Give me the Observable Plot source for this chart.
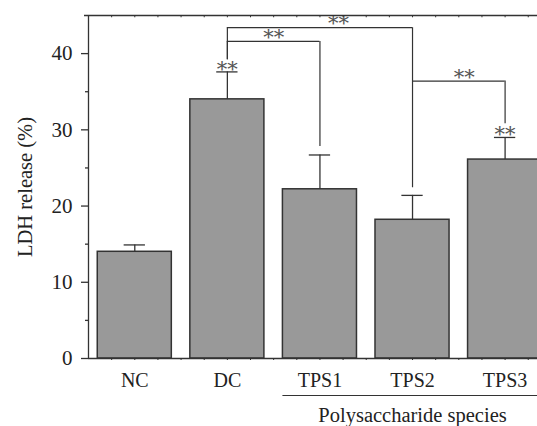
<!DOCTYPE html>
<html>
<head>
<meta charset="utf-8">
<script src="https://cdn.jsdelivr.net/npm/d3@7"></script>
<script src="https://cdn.jsdelivr.net/npm/@observablehq/plot@0.6"></script>
<style>
  html, body { margin: 0; padding: 0; background: #fff; overflow: hidden; }
</style>
</head>
<body>
<div id="chart"></div>
<script>
// ---- data ----
const categories = ["NC", "DC", "TPS1", "TPS2", "TPS3"];
const means = [14.0, 34.0, 22.2, 18.2, 26.1];
const sds = [0.9, 3.6, 4.5, 3.2, 2.9];
const yTicks = [0, 10, 20, 30, 40];
const yMinorTicks = [5, 15, 25, 35];
const yLabel = "LDH release (%)";
const groupLabel = "Polysaccharide species";
const groupMembers = ["TPS1", "TPS2", "TPS3"];
// significance brackets
const bracketFrom = ["DC", "DC", "TPS2"];
const bracketTo = ["TPS1", "TPS2", "TPS3"];
const bracketLevel = [41.6, 43.4, 36.4];
const bracketFromEnd = [39.2, 39.2, 36.4];
const bracketToEnd = [27.8, 22.4, 30.8];
const bracketLabelX = [1.5, 2.2, 3.56];
const starredBars = ["DC", "TPS3"];
const starText = "**";

// ---- derived tables ----
const idx = c => categories.indexOf(c);
const bars = categories.map((c, i) => ({cat: c, i, mean: means[i], top: means[i] + sds[i]}));
const brackets = bracketFrom.map((f, k) => ({
  a: idx(f), b: idx(bracketTo[k]), level: bracketLevel[k],
  aEnd: bracketFromEnd[k], bEnd: bracketToEnd[k], lx: bracketLabelX[k]
}));
const stars = bars.filter(d => starredBars.includes(d.cat));

const halfBar = 0.4, halfCap = 0.115;
const xMinor = d3.range(-0.25, 4.35, 0.25);
const ink = "#333";
const starStyle = {lineAnchor: "middle", fontSize: 21, fill: "#555", fontFamily: "'DejaVu Serif', serif"};

const chart = Plot.plot({
  width: 537,
  height: 426,
  marginLeft: 88,
  marginRight: 0,
  marginTop: 15,
  marginBottom: 68,
  x: {domain: [-0.5, 4.35], axis: null},
  y: {domain: [0, 45], axis: null},
  style: {fontFamily: "'Liberation Serif', 'DejaVu Serif', serif", fontSize: "20px", color: "#222", background: "#fff"},
  marks: [
    // bars
    Plot.rectY(bars, {x1: d => d.i - halfBar, x2: d => d.i + halfBar, y: "mean", fill: "#999999", stroke: ink, strokeWidth: 1.5}),
    // error bars
    Plot.ruleX(bars, {x: "i", y1: "mean", y2: "top", stroke: ink, strokeWidth: 1.3}),
    Plot.ruleY(bars, {y: "top", x1: d => d.i - halfCap, x2: d => d.i + halfCap, stroke: ink, strokeWidth: 1.3}),
    // brackets
    Plot.ruleY(brackets, {y: "level", x1: "a", x2: "b", stroke: ink, strokeWidth: 1.2}),
    Plot.ruleX(brackets, {x: "a", y1: "aEnd", y2: "level", stroke: ink, strokeWidth: 1.2}),
    Plot.ruleX(brackets, {x: "b", y1: "bEnd", y2: "level", stroke: ink, strokeWidth: 1.2}),
    Plot.text(brackets, {x: "lx", y: "level", text: () => starText, dy: -4, ...starStyle}),
    Plot.text(stars, {x: "i", y: "top", text: () => starText, dy: -3, ...starStyle}),
    // frame lines
    Plot.ruleX([-0.5], {stroke: ink, strokeWidth: 1.3}),
    Plot.ruleY([45], {stroke: ink, strokeWidth: 1.3, insetLeft: -4}),
    Plot.ruleY([0], {stroke: ink, strokeWidth: 1.3}),
    Plot.ruleX(xMinor, {y1: 45, y2: 44.7, stroke: ink, strokeWidth: 1}),
    Plot.axisX({ticks: xMinor, tickSize: 2, tickFormat: () => "", stroke: ink}),
    // y axis
    Plot.axisY({ticks: yTicks, tickSize: 7, tickPadding: 9, label: null, stroke: ink, strokeWidth: 1.3, fontSize: 21}),
    Plot.axisY({ticks: yMinorTicks, tickSize: 3, tickFormat: () => "", label: null, stroke: ink, strokeWidth: 1.3}),
    Plot.text([yLabel], {frameAnchor: "left", dx: -63, rotate: -90, textAnchor: "middle", lineAnchor: "middle", fontSize: 20.5, fill: "#222"}),
    // category labels
    Plot.text(bars, {x: "i", y: 0, text: "cat", dy: 22, lineAnchor: "middle", fontSize: 20, fill: "#222"}),
    // group label & line
    Plot.ruleY([0], {x1: idx(groupMembers[0]) - halfBar, x2: 4.35, dy: 37, stroke: ink, strokeWidth: 1.2}),
    Plot.text([groupLabel], {x: idx(groupMembers[1]), y: 0, dy: 57, lineAnchor: "middle", fontSize: 20.5, fill: "#222"})
  ]
});
document.getElementById("chart").appendChild(chart);
</script>
</body>
</html>
